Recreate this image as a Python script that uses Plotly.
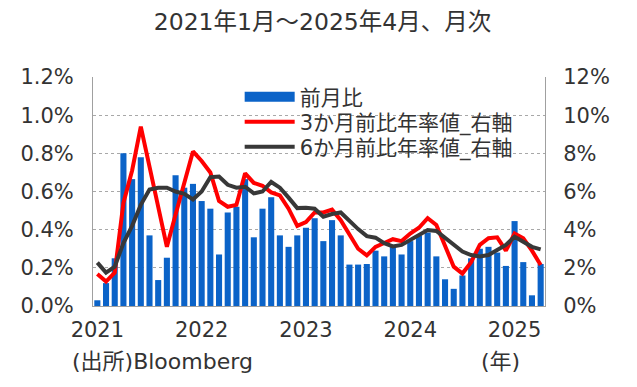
import plotly.graph_objects as go

# Monthly, Jan 2021 .. Apr 2025 (52 months)
months = list(range(52))
year_ticks = [0, 12, 24, 36, 48]
year_labels = ["2021", "2022", "2023", "2024", "2025"]

mom = [0.03, 0.12, 0.25, 0.80, 0.665, 0.78, 0.37, 0.136, 0.253, 0.685, 0.62, 0.64,
       0.55, 0.51, 0.27, 0.49, 0.52, 0.665, 0.36, 0.51, 0.57, 0.37, 0.31, 0.37,
       0.41, 0.46, 0.34, 0.45, 0.37, 0.217, 0.217, 0.22, 0.29, 0.26, 0.31, 0.27,
       0.34, 0.37, 0.385, 0.26, 0.14, 0.09, 0.16, 0.25, 0.30, 0.31, 0.28, 0.21,
       0.445, 0.23, 0.056, 0.22]

ann3 = [1.68, 1.28, 1.75, 5.4, 7.1, 9.4, 7.3, 5.2, 3.1, 4.8, 6.4, 8.1,
        7.6, 7.0, 5.5, 5.2, 5.3, 6.95, 6.45, 6.3, 5.95, 5.8, 5.1, 4.2,
        4.4, 4.9, 4.9, 5.05, 4.5, 3.7, 3.0, 2.65, 3.1, 3.3, 3.5, 3.4,
        3.8, 4.1, 4.6, 4.25, 3.1, 2.06, 1.7, 2.3, 3.2, 3.55, 3.6, 2.9,
        3.8, 3.55, 2.9, 2.15]

ann6 = [2.27, 1.75, 2.06, 3.3, 4.2, 5.3, 6.1, 6.2, 6.2, 6.0, 5.88, 5.58,
        6.0, 6.75, 6.78, 6.35, 6.2, 6.25, 5.9, 6.0, 6.5, 6.2, 5.68, 5.13,
        5.15, 5.1, 4.68, 4.82, 4.9, 4.45, 4.03, 3.66, 3.58, 3.29, 3.12, 3.2,
        3.46, 3.78, 3.98, 3.93, 3.55, 3.2, 2.85, 2.67, 2.6, 2.67, 2.93, 3.2,
        3.63, 3.37, 3.1, 2.97]

names = ["前月比", "3か月前比年率値_右軸", "6か月前比年率値_右軸"]
BLUE = "#0b63c8"
RED = "#ff0000"
DARK = "#383838"
TXT = "#333333"
FONT = "DejaVu Sans, Noto Sans CJK JP, sans-serif"

fig = go.Figure()
fig.add_trace(go.Bar(x=months, y=mom, marker_color=BLUE, marker_line_width=0,
                     showlegend=False, yaxis="y"))
# legend proxy for the bars (long bar-like symbol)
fig.add_trace(go.Scatter(x=[None], y=[None], mode="lines", name=names[0],
                         line=dict(color=BLUE, width=11), yaxis="y", legend="legend"))
fig.add_trace(go.Scatter(x=months, y=ann3, mode="lines", name=names[1],
                         line=dict(color=RED, width=4), yaxis="y2", legend="legend2"))
fig.add_trace(go.Scatter(x=months, y=ann6, mode="lines", name=names[2],
                         line=dict(color=DARK, width=4), yaxis="y2", legend="legend3"))

leg_common = dict(x=0.3245, xanchor="left", yanchor="middle", bgcolor="rgba(0,0,0,0)",
                  font=dict(size=21, color=TXT, family=FONT), itemwidth=50)

fig.update_layout(
    width=629, height=379,
    margin=dict(l=83, r=92, t=69, b=81),
    paper_bgcolor="white", plot_bgcolor="white",
    font=dict(family=FONT, color=TXT, size=21),
    bargap=0.3,
    title=dict(text="2021年1月～2025年4月、月次", x=0.5, xanchor="center",
               y=1 - 14 / 379, yanchor="middle", font=dict(size=23.5, color=TXT)),
    xaxis=dict(range=[-0.5, 51.5], tickvals=year_ticks, ticktext=year_labels,
               showgrid=False, showline=True, linecolor="#a0a0a0", linewidth=1,
               ticks="", ticklabelstandoff=5, tickfont=dict(size=21), zeroline=False),
    yaxis=dict(range=[0, 1.2], dtick=0.2, tickformat=".1f", ticksuffix="%",
               showgrid=True, gridcolor="#a8a8a8", griddash="dot", gridwidth=1,
               showline=True, linecolor="#a0a0a0", linewidth=1, ticks="",
               ticklabelstandoff=14, tickfont=dict(size=21), zeroline=False),
    yaxis2=dict(range=[0, 12], dtick=2, ticksuffix="%", overlaying="y", side="right",
                showgrid=False, showline=True, linecolor="#a0a0a0", linewidth=1,
                ticks="", ticklabelstandoff=13, tickfont=dict(size=21), zeroline=False),
    legend=dict(y=0.9127, **leg_common),
    legend2=dict(y=0.8035, **leg_common),
    legend3=dict(y=0.6943, **leg_common),
    annotations=[
        dict(text="(出所)Bloomberg", xref="paper", yref="paper", x=-0.0508, y=-0.2445,
             xanchor="left", yanchor="middle", showarrow=False, font=dict(size=22)),
        dict(text="(年)", xref="paper", yref="paper", x=0.854, y=-0.2445,
             xanchor="left", yanchor="middle", showarrow=False, font=dict(size=22)),
    ],
)

fig.write_html("out.html")
